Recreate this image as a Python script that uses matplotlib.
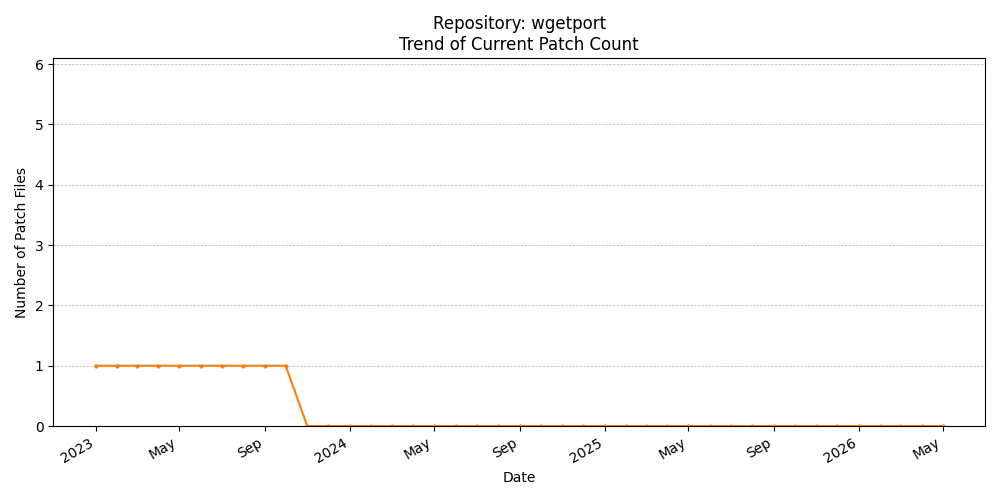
import matplotlib
matplotlib.use("Agg")
import matplotlib.pyplot as plt
import matplotlib.dates as mdates
import pandas as pd

# monthly snapshots of the patch count
dates = pd.date_range("2023-01-01", "2026-05-01", freq="MS")
patch_counts = [1] * 10 + [0] * (len(dates) - 10)

fig, ax = plt.subplots(figsize=(10, 5), dpi=100)
ax.plot(dates, patch_counts, marker="o", markersize=2, color="tab:orange", linewidth=1.5)

ax.set_title("Repository: wgetport\nTrend of Current Patch Count")
ax.set_xlabel("Date")
ax.set_ylabel("Number of Patch Files")
ax.set_ylim(0, 6.1)
ax.grid(axis="y", linestyle="--", linewidth=0.5, color="#b0b0b0")

ax.xaxis.set_major_locator(mdates.AutoDateLocator())
ax.xaxis.set_major_formatter(mdates.ConciseDateFormatter(ax.xaxis.get_major_locator()))
fig.autofmt_xdate()

plt.tight_layout()
plt.savefig("out.png")
